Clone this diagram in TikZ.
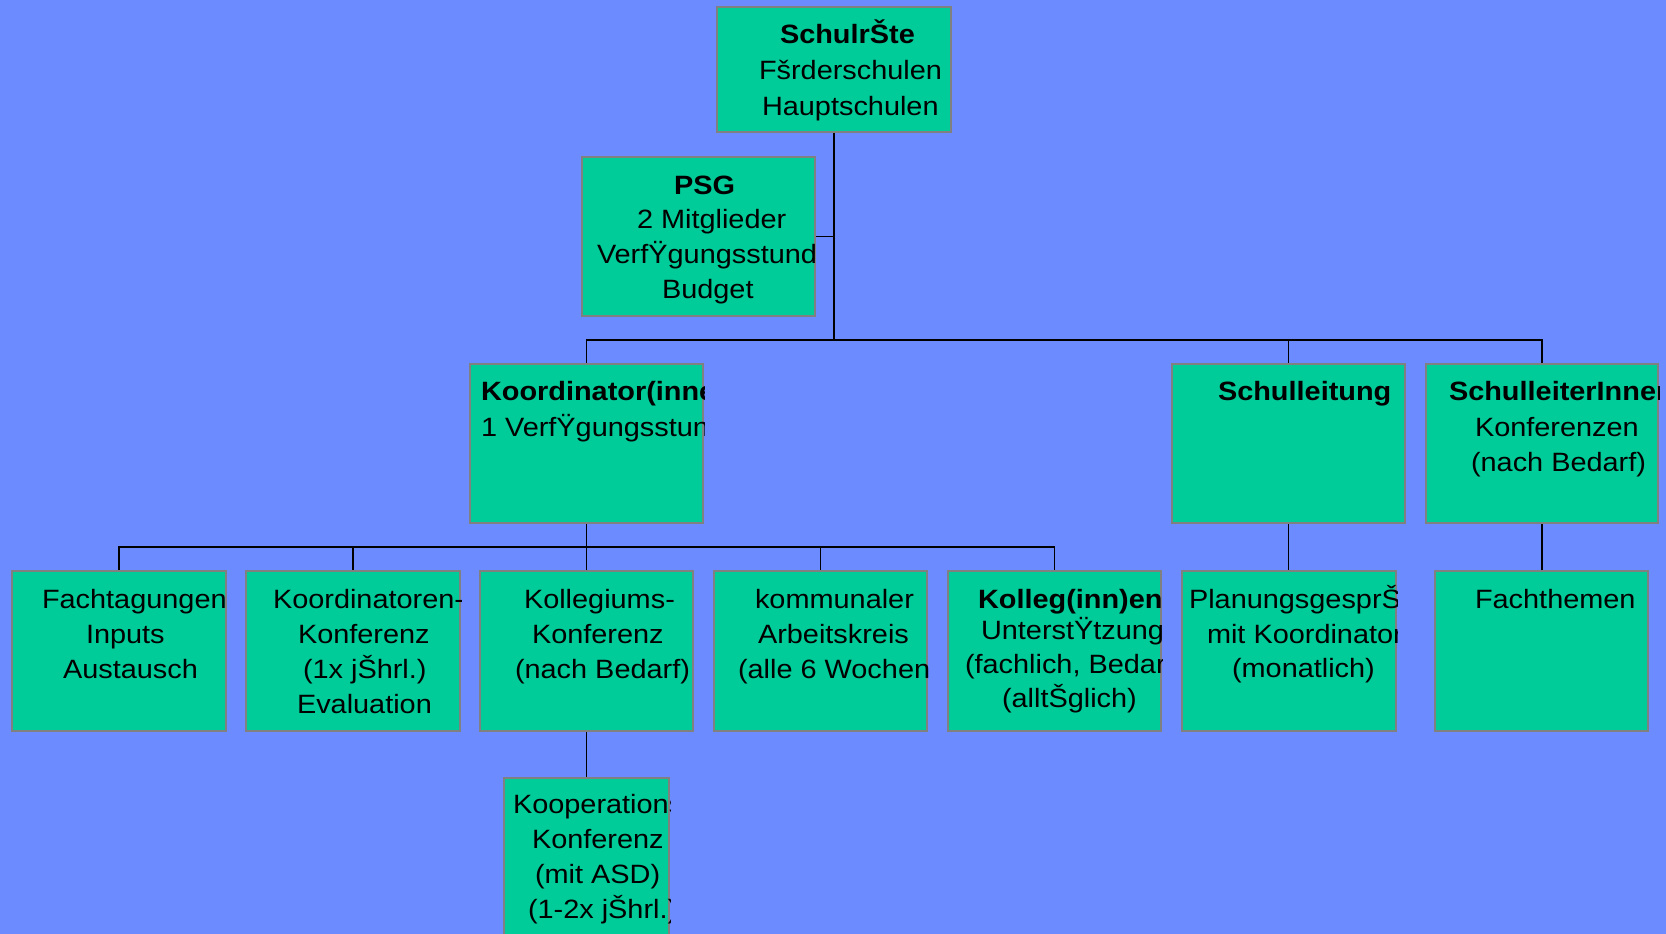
\documentclass[tikz,border=0pt]{standalone}
\usepackage{fontspec}
\setmainfont[FakeStretch=1.09]{Liberation Sans}
\definecolor{bgblue}{HTML}{6B8BFF}
\definecolor{boxfill}{HTML}{00CC99}
\definecolor{boxborder}{HTML}{808080}
\newcommand\fs{\fontsize{26.5}{32}\selectfont}
\tikzset{
  box/.style={draw=boxborder, line width=2pt, fill=boxfill, rectangle, inner sep=0pt},
  txt/.style={anchor=base west, inner sep=0pt, outer sep=0pt, font=\fs},
  bt/.style={txt, font=\fs\bfseries},
  link/.style={draw=black, line width=1.6pt}
}
\begin{document}
\begin{tikzpicture}[x=1pt,y=-1pt]
\fill[bgblue] (0,0) rectangle (1666,934);
\useasboundingbox (0,0) rectangle (1666,934);

\coordinate (bus1) at (834,340);
\coordinate (bus2) at (586.5,547);

% boxes
\node[box, minimum width=234pt, minimum height=125pt] (top) at (834,69.5) {};
\node[box, minimum width=233pt, minimum height=159pt] (psg) at (698.5,236.5) {};
\node[box, minimum width=233pt, minimum height=159pt] (koord) at (586.5,443.5) {};
\node[box, minimum width=233pt, minimum height=159pt] (sl) at (1288.5,443.5) {};
\node[box, minimum width=232pt, minimum height=159pt] (sli) at (1542,443.5) {};
\node[box, minimum width=214pt, minimum height=160pt] (b1) at (119,651) {};
\node[box, minimum width=214pt, minimum height=160pt] (b2) at (353,651) {};
\node[box, minimum width=213pt, minimum height=160pt] (b3) at (586.5,651) {};
\node[box, minimum width=213pt, minimum height=160pt] (b4) at (820.5,651) {};
\node[box, minimum width=213pt, minimum height=160pt] (b5) at (1054.5,651) {};
\node[box, minimum width=214pt, minimum height=160pt] (b6) at (1289,651) {};
\node[box, minimum width=213pt, minimum height=160pt] (b7) at (1541.5,651) {};
\node[box, minimum width=165pt, minimum height=182pt] (koop) at (586.5,869) {};

% connectors
\draw[link] (top.south) -- (bus1);
\draw[link] (psg.east) -- (psg.east -| top.south);
\draw[link] (koord.north) |- (bus1) -| (sl.north);
\draw[link] (bus1) -| (sli.north);
\draw[link] (koord.south) -- (bus2);
\draw[link] (b1.north) |- (bus2) -| (b5.north);
\draw[link] (b2.north) -- (b2.north |- bus2);
\draw[link] (b3.north) -- (b3.north |- bus2);
\draw[link] (b4.north) -- (b4.north |- bus2);
\draw[link] (sl.south) -- (sl.south |- b6.north);
\draw[link] (sli.south) -- (sli.south |- b7.north);
\draw[link] (b3.south) -- (b3.south |- koop.north);

% texts
\begin{scope}
\clip (top.south west) rectangle (top.north east);
\node[bt] (t1) at (780,44) {SchulrŠte};
\node[txt] (t2) at (759,80) {Fšrderschulen};
\node[txt] (t3) at (762,115) {Hauptschulen};
\end{scope}
\begin{scope}
\clip (psg.south west) rectangle (psg.north east);
\node[bt] (p1) at (674,194) {PSG};
\node[txt] (p2) at (637,228) {2 Mitglieder};
\node[txt] (p3) at (597,263) {VerfŸgungsstunden};
\node[txt] (p4) at (662,298) {Budget};
\end{scope}
\begin{scope}
\clip (koord.south west) rectangle (koord.north east);
\node[bt] (k1) at (481,400) {Koordinator(innen)};
\node[txt] (k2) at (481,436) {1 VerfŸgungsstunde};
\end{scope}
\begin{scope}
\clip (sl.south west) rectangle (sl.north east);
\node[bt] (s1) at (1218,400) {Schulleitung};
\end{scope}
\begin{scope}
\clip (sli.south west) rectangle (sli.north east);
\node[bt] (si1) at (1449,400) {SchulleiterInnen};
\node[txt] (si2) at (1475,436) {Konferenzen};
\node[txt] (si3) at (1471,471) {(nach Bedarf)};
\end{scope}
\begin{scope}
\clip (b1.south west) rectangle (b1.north east);
\node[txt] (a1) at (42,608) {Fachtagungen};
\node[txt] (a2) at (86,643) {Inputs};
\node[txt] (a3) at (63,678) {Austausch};
\end{scope}
\begin{scope}
\clip (b2.south west) rectangle (b2.north east);
\node[txt] (c1) at (273,608) {Koordinatoren-};
\node[txt] (c2) at (298,643) {Konferenz};
\node[txt] (c3) at (303,678) {(1x jŠhrl.)};
\node[txt] (c4) at (297,713) {Evaluation};
\end{scope}
\begin{scope}
\clip (b3.south west) rectangle (b3.north east);
\node[txt] (d1) at (524,608) {Kollegiums-};
\node[txt] (d2) at (532,643) {Konferenz};
\node[txt] (d3) at (515,678) {(nach Bedarf)};
\end{scope}
\begin{scope}
\clip (b4.south west) rectangle (b4.north east);
\node[txt] (e1) at (755,608) {kommunaler};
\node[txt] (e2) at (758,643) {Arbeitskreis};
\node[txt] (e3) at (738,678) {(alle 6 Wochen)};
\end{scope}
\begin{scope}
\clip (b5.south west) rectangle (b5.north east);
\node[bt] (f1) at (978,608) {Kolleg(inn)en};
\node[txt] (f2) at (981,639) {UnterstŸtzung};
\node[txt] (f3) at (965,673) {(fachlich, Bedarf)};
\node[txt] (f4) at (1002,707) {(alltŠglich)};
\end{scope}
\begin{scope}
\clip (b6.south west) rectangle (b6.north east);
\node[txt] (g1) at (1189,608) {PlanungsgesprŠch};
\node[txt] (g2) at (1207,643) {mit Koordinator(in)};
\node[txt] (g3) at (1232,677) {(monatlich)};
\end{scope}
\begin{scope}
\clip (b7.south west) rectangle (b7.north east);
\node[txt] (h1) at (1475,608) {Fachthemen};
\end{scope}
\begin{scope}
\clip (koop.south west) rectangle (koop.north east);
\node[txt] (o1) at (513,813) {Kooperations-};
\node[txt] (o2) at (532,848) {Konferenz};
\node[txt] (o3) at (535,883) {(mit ASD)};
\node[txt] (o4) at (528,918) {(1-2x jŠhrl.)};
\end{scope}
\end{tikzpicture}
\end{document}
